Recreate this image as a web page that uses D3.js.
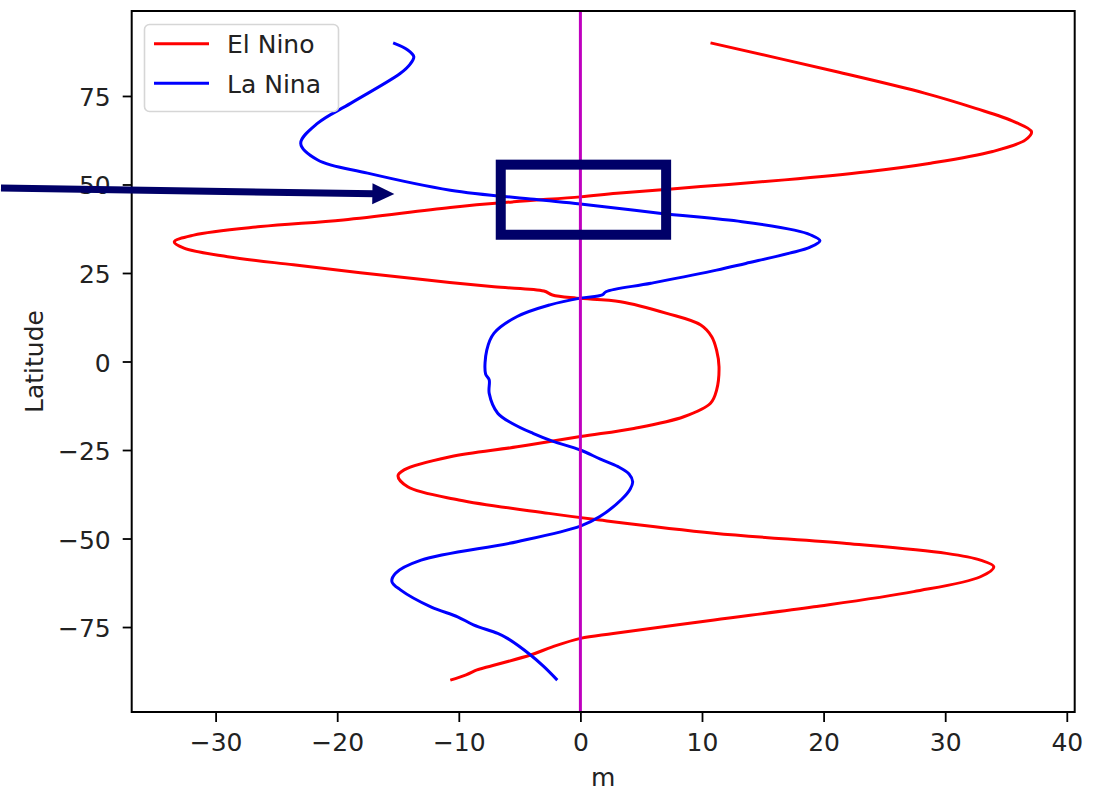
<!DOCTYPE html>
<html lang='en'>
  <head>
    <style type='text/css'>
      body { margin: 0; background-color: #fff; }
      #visualization { width: 1104px; height: 791px; }
      text { font-family: 'DejaVu Sans', sans-serif; }
    </style>
  </head>
  <body>
    <div id='visualization'>
      <svg width='1104' height='791'></svg>
    </div>

    <script src='https://d3js.org/d3.v7.min.js'></script>
    <script type='text/javascript'>
        // Data (latitude, metres)
        var elNinoLat = [-90, -88.5, -87.1, -86.7, -82.9, -80.6, -78.2, -76.8, -73.0, -69.3, -65.0, -60.8, -58.0, -56.1,
                         -54.2, -51.4, -48.5, -44.8, -42.9, -39.1, -35.4, -32.3, -30.6, -26.9, -24.1, -21.2, -18.9, -15.6,
                         -11.8, -8.1, -1.5, 3.2, 7.0, 10.3, 13.6, 16.9, 17.9, 18.8, 19.9, 21.1, 23.0, 25.1, 27.3, 29.6,
                         32.0, 33.8, 35.7, 38.1, 40.0, 43.5, 45.1, 46.5, 47.5, 49.4, 51.3, 53.6, 56.0, 59.3, 62.6, 64.9,
                         67.7, 71.5, 75.8, 81.9, 90];
        var elNinoVal = [-10.7, -9.4, -8.5, -8.1, -4.1, -2.3, 0, 2.7, 11.0, 19.2, 27.4, 32.9, 34.0, 32.9,
                         30.1, 21.9, 11.0, 1.6, -2.6, -10.0, -14.2, -15.0, -14.5, -10.7, -5.2, 0, 4.4, 8.5,
                         10.7, 11.2, 11.4, 11.2, 10.8, 9.9, 7.1, 3.3, -0.3, -2.3, -3.0, -7.1, -12.6, -18.1, -23.6, -29.0,
                         -32.6, -33.4, -31.8, -26.3, -19.5, -10.7, -5.5, 0, 3.0, 9.9, 16.8, 23.6, 28.8, 33.9, 36.6, 37.1,
                         35.7, 32.5, 28.3, 21.0, 10.7];

        var laNinaLat = [-90, -86.2, -82.9, -78.2, -76.8, -74.4, -72.1, -69.3, -64.5, -62.2, -59.8, -56.1, -50.9,
                         -46.5, -43.8, -38.9, -36.0, -34.0, -31.8, -29.7, -27.5, -25.0, -22.5, -20.3, -17.5, -14.6, -9.0,
                         -5.2, -3.5, 3.2, 8.0, 12.7, 16.0, 17.9, 18.8, 19.7, 22.1, 25.8, 27.7, 30.6, 32.3, 34.1, 35.8,
                         37.1, 39.5, 41.9, 44.5, 45.8, 48.4, 53.2, 56.9, 61.6, 67.3, 72.9, 81.4, 84.0, 86.1, 88.0, 90];
        var laNinaVal = [-1.9, -3.0, -4.1, -6.0, -6.8, -8.8, -10.1, -12.3, -14.8, -15.5, -15.2, -13.1, -5.2,
                         0, 1.6, 3.4, 4.1, 4.3, 4.0, 3.1, 1.6, 0, -2.3, -3.9, -5.6, -6.8, -7.5,
                         -7.5, -7.8, -7.7, -7.1, -5.2, -2.5, 0, 1.8, 2.1, 5.8, 11.2, 13.6, 17.2, 18.9, 19.7, 18.9,
                         17.6, 13.3, 6.5, 0, -3.8, -10.7, -17.5, -21.6, -23.0, -21.6, -18.9, -14.8, -14.0, -13.7, -14.2, -15.4];

        var seriesNames = ["El Nino", "La Nina"];
        var seriesColors = ["#ff0000", "#0000ff"];
        var xTicks = [-30, -20, -10, 0, 10, 20, 30, 40];
        var yTicks = [-75, -50, -25, 0, 25, 50, 75];

        // highlighted box and arrow (data units)
        var boxX = [-6.55, 7.05];
        var boxLat = [55.6, 35.8];
        var arrowFrom = [-47.65, 49.0];
        var arrowTo = [-15.3, 47.3];

        var svg = d3.select("svg");
        var plot = {left: 131.7, right: 1074.7, top: 11, bottom: 712};

        var x = d3.scaleLinear().domain([-36.9, 40.65]).range([plot.left, plot.right]);
        var y = d3.scaleLinear().domain([-99, 99]).range([plot.bottom, plot.top]);

        var fmt = function(d) { return d < 0 ? "\u2212" + Math.abs(d) : "" + d; };

        // axes
        var xAxis = svg.append("g")
            .attr("transform", "translate(0," + plot.bottom + ")")
            .call(d3.axisBottom(x).tickValues(xTicks).tickFormat(fmt).tickSize(10).tickPadding(11).tickSizeOuter(0));
        var yAxis = svg.append("g")
            .attr("transform", "translate(" + plot.left + ",0)")
            .call(d3.axisLeft(y).tickValues(yTicks).tickFormat(fmt).tickSize(9).tickPadding(12).tickSizeOuter(0));
        [xAxis, yAxis].forEach(function(a) {
            a.select(".domain").remove();
            a.selectAll(".tick line").attr("stroke", "#000").attr("stroke-width", 1.8);
            a.selectAll(".tick text").attr("fill", "#222").style("font-size", "25px")
              .style("font-family", "'DejaVu Sans', sans-serif");
        });
        yAxis.selectAll(".tick text").attr("dy", "0.38em");

        // axis labels
        svg.append("text").attr("x", (plot.left + plot.right) / 2).attr("y", 786)
            .attr("text-anchor", "middle").attr("fill", "#222").style("font-size", "25px").text("m");
        svg.append("text").attr("transform", "translate(42.5," + ((plot.top + plot.bottom) / 2) + ") rotate(-90)")
            .attr("text-anchor", "middle").attr("fill", "#222").style("font-size", "25px").text("Latitude");

        // clip to axes
        svg.append("clipPath").attr("id", "clip").append("rect")
            .attr("x", plot.left).attr("y", plot.top)
            .attr("width", plot.right - plot.left).attr("height", plot.bottom - plot.top);
        var g = svg.append("g").attr("clip-path", "url(#clip)");

        var line = d3.line()
            .x(function(d) { return x(d[1]); })
            .y(function(d) { return y(d[0]); })
            .curve(d3.curveCatmullRom.alpha(0.5));

        var series = [d3.zip(elNinoLat, elNinoVal).reverse(), d3.zip(laNinaLat, laNinaVal).reverse()];
        series.forEach(function(s, i) {
            g.append("path").datum(s)
                .attr("d", line)
                .attr("fill", "none")
                .attr("stroke", seriesColors[i])
                .attr("stroke-width", 3)
                .attr("stroke-linejoin", "round")
                .attr("stroke-linecap", "butt");
        });

        // zero line
        g.append("line")
            .attr("x1", x(0)).attr("x2", x(0))
            .attr("y1", plot.top).attr("y2", plot.bottom)
            .attr("stroke", "#bf00bf").attr("stroke-width", 3);

        // frame
        svg.append("rect")
            .attr("x", plot.left).attr("y", plot.top)
            .attr("width", plot.right - plot.left).attr("height", plot.bottom - plot.top)
            .attr("fill", "none").attr("stroke", "#000").attr("stroke-width", 2);

        // legend
        var legend = svg.append("g");
        legend.append("rect")
            .attr("x", 144.5).attr("y", 24.5).attr("width", 194).attr("height", 87)
            .attr("rx", 5).attr("ry", 5)
            .attr("fill", "#fff").attr("fill-opacity", 0.8)
            .attr("stroke", "#d6d6d6").attr("stroke-width", 1.6);
        seriesNames.forEach(function(name, i) {
            var ly = 43.7 + i * 39.6;
            legend.append("line")
                .attr("x1", 154).attr("x2", 209).attr("y1", ly).attr("y2", ly)
                .attr("stroke", seriesColors[i]).attr("stroke-width", 3);
            legend.append("text")
                .attr("x", 227).attr("y", ly + 9.4)
                .attr("fill", "#222").style("font-size", "25px").text(name);
        });

        // annotation box
        var navy = "#000068";
        svg.append("rect")
            .attr("x", x(boxX[0])).attr("y", y(boxLat[0]))
            .attr("width", x(boxX[1]) - x(boxX[0])).attr("height", y(boxLat[1]) - y(boxLat[0]))
            .attr("fill", "none").attr("stroke", navy).attr("stroke-width", 10);

        // annotation arrow
        var x0 = x(arrowFrom[0]), y0 = y(arrowFrom[1]);
        var x1 = x(arrowTo[0]), y1 = y(arrowTo[1]);
        var ang = Math.atan2(y1 - y0, x1 - x0);
        var headLen = 22, headHalf = 10.5;
        var bx = x1 - headLen * Math.cos(ang), by = y1 - headLen * Math.sin(ang);
        svg.append("line")
            .attr("x1", x0).attr("y1", y0).attr("x2", bx + 2 * Math.cos(ang)).attr("y2", by + 2 * Math.sin(ang))
            .attr("stroke", navy).attr("stroke-width", 7);
        svg.append("path")
            .attr("d", "M" + x1 + "," + y1 +
                "L" + (bx - headHalf * Math.sin(ang)) + "," + (by + headHalf * Math.cos(ang)) +
                "L" + (bx + headHalf * Math.sin(ang)) + "," + (by - headHalf * Math.cos(ang)) + "Z")
            .attr("fill", navy);
    </script>
  </body>
</html>
